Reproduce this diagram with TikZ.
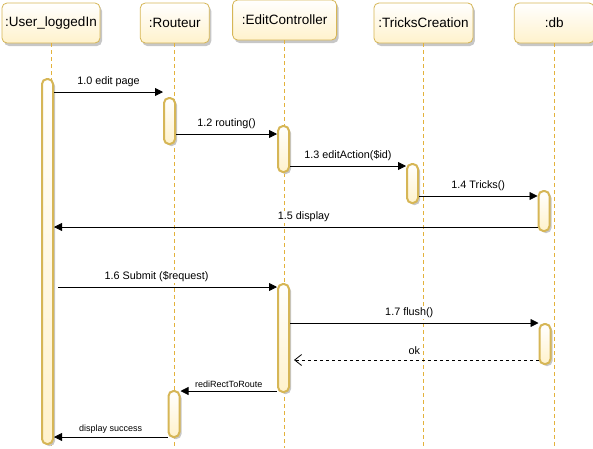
\documentclass[tikz,border=0pt]{standalone}
\usepackage{fontspec}
\setmainfont{Liberation Sans}
\usetikzlibrary{ arrows.meta, calc, positioning, shadows }
\definecolor{goldline}{HTML}{D6B656}
\definecolor{lifegold}{HTML}{E3B23C}
\definecolor{cream}{HTML}{FFF2CC}
\tikzset{
>={Triangle[length=8pt,width=8pt]}, % filled heads for the calls
head/.style={draw=goldline, line width=0.8pt, rounded corners=5pt,
  top color=white, bottom color=cream, minimum height=40pt, inner sep=1pt,
  font=\fontsize{13.5}{16}\selectfont,
  drop shadow={shadow xshift=2pt, shadow yshift=-3pt, fill=black!22, opacity=1}}, % the boxes on top
bar/.style={draw=goldline, line width=2pt, rounded corners=5pt,
  top color=white, bottom color=cream, minimum width=11pt, inner sep=0pt, anchor=north,
  drop shadow={shadow xshift=2pt, shadow yshift=-2pt, fill=black!22, opacity=1}}, % activation bars
lifeline/.style={draw=lifegold, dash pattern=on 4pt off 3pt, line width=1pt},
lifeshadow/.style={draw=black!22, dash pattern=on 4pt off 3pt, line width=1pt, xshift=2pt},
msg/.style={->, line width=0.8pt},
reply/.style={-{Straight Barb[length=7pt,width=11pt]}, dashed, line width=0.8pt, shorten >=4pt},
lbl/.style={above=4pt, fill=white, inner sep=1pt, font=\fontsize{10.8}{12}\selectfont},
lblsmall/.style={above=2pt, fill=white, inner sep=1pt, font=\fontsize{9}{10}\selectfont},
}

\begin{document}
\begin{tikzpicture}[x=1pt, y=-1pt]
  \useasboundingbox (0,0) rectangle (593,448);

  % Lifeline heads ---------------------------------
  \node[head, minimum width=98pt] (user) at (51,23) {:User\_loggedIn};
  \node[head, minimum width=69pt, right=39.5pt of user] (rout) {:Routeur};
  \node[head, minimum width=104pt, right=22.5pt of rout, yshift=3pt] (edit) {:EditController};
  \node[head, minimum width=99pt, right=36.5pt of edit, yshift=-3pt] (tricks) {:TricksCreation};
  \node[head, minimum width=80pt, right=40.5pt of tricks] (db) {:db};

  % dashed lifelines down to the bottom, with their grey shadow
  \foreach \h in {user,rout,edit,tricks,db}{
    \draw[lifeshadow] (\h.south) -- (\h.south |- 0,448);
    \draw[lifeline] (\h.south) -- (\h.south |- 0,448);
  }

  % Activation bars --------------------------------
  \node[bar, minimum height=365pt] (u1) at (47.5,78) {};
  \node[bar, minimum height=46pt] (r1) at (169.5,97) {};
  \node[bar, minimum height=46pt] (e1) at (283.5,125) {};
  \node[bar, minimum height=39pt] (t1) at (412.5,163) {};
  \node[bar, minimum height=40pt] (d1) at (544,190) {};
  \node[bar, minimum height=108pt] (e2) at (283.5,283) {};
  \node[bar, minimum height=40pt] (d2) at (545,323) {};
  \node[bar, minimum height=46pt] (r2) at (174,390) {};

  % Messages ---------------------------------------
  \path
  (u1.east |- 0,92) edge[msg] node[lbl]{1.0 edit page} (r1.west |- 0,92)
  (r1.east |- 0,134) edge[msg] node[lbl]{1.2 routing()} (e1.west |- 0,134)
  (e1.east |- 0,166) edge[msg] node[lbl]{1.3 editAction(\$id)} (t1.west |- 0,166)
  (t1.east |- 0,196) edge[msg] node[lbl]{1.4 Tricks()} (d1.west |- 0,196)
  (d1.west |- 0,227) edge[msg] node[lbl, xshift=8pt]{1.5 display} (u1.east |- 0,227)

  (u1.east |- 0,287) edge[msg, shorten <=4pt] node[lbl, xshift=-9pt]{1.6 Submit (\$request)} (e2.west |- 0,287)
  (e2.east |- 0,323) edge[msg] node[lbl, xshift=-5pt]{1.7 flush()} (d2.west |- 0,323)
  (d2.west |- 0,360) edge[reply] node[lbl]{ok} (e2.east |- 0,360)
  (e2.west |- 0,391) edge[msg] node[lblsmall]{rediRectToRoute} (r2.east |- 0,391)
  (r2.west |- 0,437) edge[msg] node[lblsmall]{display success} (u1.east |- 0,437) ;
\end{tikzpicture}
\end{document}
